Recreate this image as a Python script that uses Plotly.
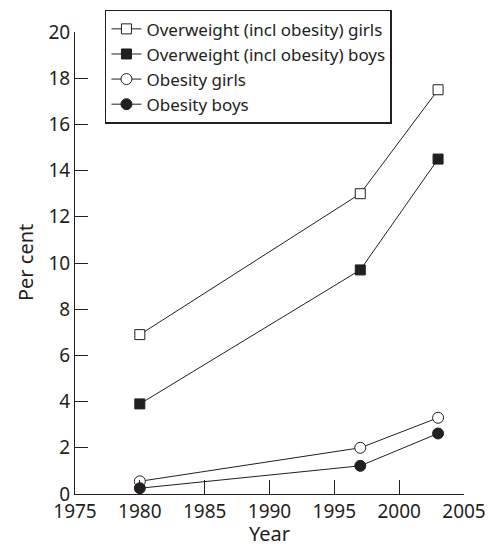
import plotly.graph_objects as go

years = [1980, 1997, 2003]
overweight_girls = [6.9, 13.0, 17.5]
overweight_boys = [3.9, 9.7, 14.5]
obesity_girls = [0.55, 2.0, 3.3]
obesity_boys = [0.25, 1.22, 2.62]

series = [
    ("Overweight (incl obesity) girls", overweight_girls, "square", "white"),
    ("Overweight (incl obesity) boys", overweight_boys, "square", "#231f20"),
    ("Obesity girls", obesity_girls, "circle", "white"),
    ("Obesity boys", obesity_boys, "circle", "#231f20"),
]

ink = "#231f20"
font = "Noto Sans"

fig = go.Figure()
for name, vals, sym, fill in series:
    fig.add_trace(go.Scatter(
        x=years, y=vals, name=name, mode="lines+markers",
        line=dict(color=ink, width=1),
        marker=dict(symbol=sym, size=10 if sym == "square" else 11, color=fill,
                    line=dict(color=ink, width=1)),
    ))

fig.update_layout(
    width=492, height=548,
    margin=dict(l=75, r=28, t=32, b=54, autoexpand=False),
    paper_bgcolor="white", plot_bgcolor="white",
    font=dict(family=font, size=19, color=ink),
    showlegend=True,
    legend=dict(x=0.077, y=1.048, xanchor="left", yanchor="top",
                bordercolor=ink, borderwidth=1.5, bgcolor="white",
                font=dict(size=17), tracegroupgap=0, itemwidth=30),
    xaxis=dict(range=[1975, 2005], tickvals=[1975, 1980, 1985, 1990, 1995, 2000, 2005],
               ticks="inside", ticklen=14, tickcolor=ink, tickwidth=1,
               showline=True, linecolor=ink, linewidth=1, showgrid=False, zeroline=False,
               automargin=False),
    yaxis=dict(range=[0, 20], tickvals=list(range(0, 21, 2)),
               ticks="inside", ticklen=13, tickcolor=ink, tickwidth=1,
               showline=True, linecolor=ink, linewidth=1, showgrid=False, zeroline=False,
               automargin=False),
    annotations=[
        dict(text="Year", xref="paper", yref="paper", x=0.5, y=-0.085,
             xanchor="center", yanchor="middle", showarrow=False,
             font=dict(size=20)),
        dict(text="Per cent", xref="paper", yref="paper", x=-0.1285, y=0.5,
             xanchor="center", yanchor="middle", showarrow=False, textangle=-90,
             font=dict(size=20)),
    ],
)

fig.write_html("out.html", config={"displayModeBar": False},
               post_script="document.body.style.margin='0';")
